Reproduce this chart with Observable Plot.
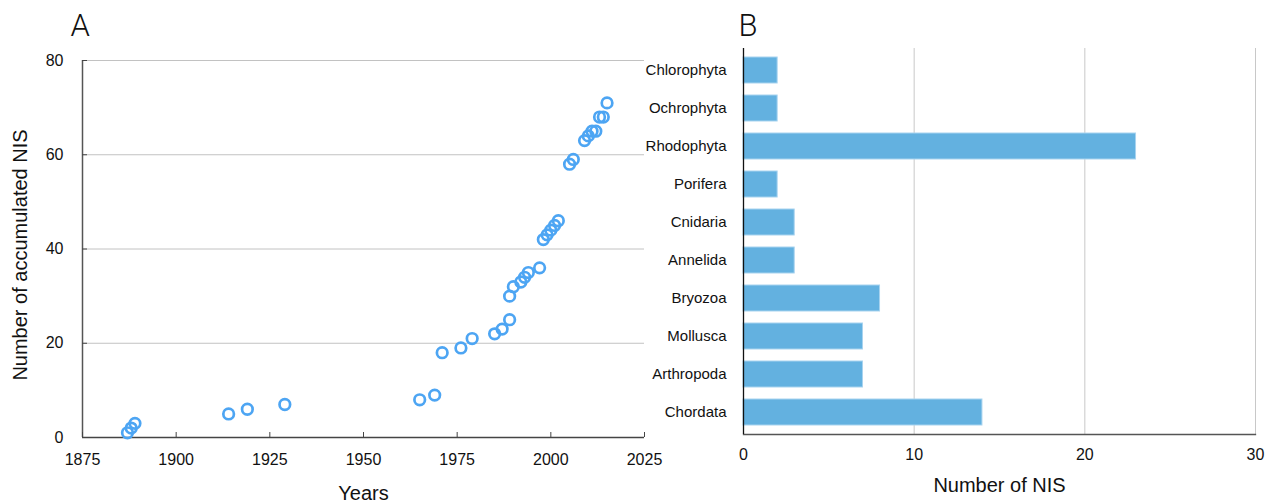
<!DOCTYPE html>
<html><head><meta charset="utf-8">
<script src="https://cdn.jsdelivr.net/npm/d3@7"></script>
<script src="https://cdn.jsdelivr.net/npm/@observablehq/plot@0.6"></script>
<style>
body{margin:0;background:#fff;}
#wrap{position:relative;width:1272px;height:504px;overflow:hidden;background:#fff}
#a{position:absolute;left:0;top:0}
#b{position:absolute;left:660px;top:0}
</style></head><body>
<div id="wrap"><div id="a"></div><div id="b"></div></div>
<script>
// Panel A: accumulated number of NIS by year of first record
const years = [1887,1888,1889,1914,1919,1929,1965,1969,1971,1976,1979,1985,1987,1989,1989,1990,1992,1993,1994,1997,1998,1999,2000,2001,2002,2005,2006,2009,2010,2011,2012,2013,2014,2015];
const accumulated = [1,2,3,5,6,7,8,9,18,19,21,22,23,25,30,32,33,34,35,36,42,43,44,45,46,58,59,63,64,65,65,68,68,71];
const xTicksA = [1875,1900,1925,1950,1975,2000,2025];
const yTicksA = [0,20,40,60,80];

// Panel B: number of NIS by phylum
const phyla = ["Chlorophyta","Ochrophyta","Rhodophyta","Porifera","Cnidaria","Annelida","Bryozoa","Mollusca","Arthropoda","Chordata"];
const nisCount = [2,2,23,2,3,3,8,7,7,14];
const xTicksB = [0,10,20,30];

const font = "'Liberation Sans', Arial, Helvetica, sans-serif";
const dataA = years.map((y,i)=>({year:y, nis:accumulated[i]}));
const dataB = phyla.map((p,i)=>({phylum:p, count:nisCount[i]}));

const chartA = Plot.plot({
  width:660, height:504,
  marginLeft:82, marginRight:16, marginTop:60, marginBottom:67,
  style:{fontFamily:font, fontSize:"16px", color:"#111", background:"transparent", overflow:"visible"},
  x:{domain:[1875,2025], label:null},
  y:{domain:[0,80], label:null},
  marks:[
    Plot.gridY(yTicksA.slice(1), {stroke:"#c2c2c2", strokeOpacity:1}),
    Plot.ruleX([1875], {stroke:"#555", strokeWidth:1.5}),
    Plot.ruleY([0], {stroke:"#444", strokeWidth:1.5}),
    Plot.axisX(xTicksA, {tickSize:-5, tickPadding:21, stroke:"#444", fontSize:16, tickFormat:d=>String(d), label:null}),
    Plot.axisY(yTicksA, {tickSize:-5, tickPadding:24, stroke:"#444", fontSize:16, label:null}),
    Plot.dot(dataA, {x:"year", y:"nis", r:5.3, stroke:"#4da5f3", strokeWidth:2.7, fill:"none"}),
    Plot.text(["Years"], {frameAnchor:"bottom", lineAnchor:"top", dy:48, fontSize:20, fill:"#111"}),
    Plot.text(["Number of accumulated NIS"], {frameAnchor:"left", textAnchor:"middle", dx:-62, dy:6, rotate:-90, fontSize:20, fill:"#111"}),
    Plot.text(["A"], {frameAnchor:"top-left", textAnchor:"start", lineAnchor:"top", dx:-12, dy:-47, fontSize:31, fontFamily:"Roboto, 'Liberation Sans', sans-serif", fontWeight:300, fill:"#111"})
  ]
});
document.getElementById("a").append(chartA);

const chartB = Plot.plot({
  width:612, height:504,
  marginLeft:83, marginRight:17, marginTop:48, marginBottom:70,
  style:{fontFamily:font, fontSize:"15px", color:"#111", background:"transparent", overflow:"visible"},
  x:{domain:[0,30], label:null},
  y:{domain:phyla, paddingInner:0.31, paddingOuter:0.17, label:null},
  marks:[
    Plot.gridX(xTicksB.slice(1), {stroke:"#c8c8c8", strokeOpacity:1}),
    Plot.barX(dataB, {x:"count", y:"phylum", fill:"#63b1e0", stroke:"#a8d3ef", strokeWidth:1}),
    Plot.frame({anchor:"bottom", stroke:"#555", strokeWidth:1.3}),
    Plot.ruleX([0], {stroke:"#111", strokeWidth:1.3}),
    Plot.axisX(xTicksB, {tickSize:0, tickPadding:14, fontSize:16, label:null}),
    Plot.axisY(phyla, {tickSize:0, tickPadding:17, fontSize:15, label:null}),
    Plot.text(["Number of NIS"], {frameAnchor:"bottom", lineAnchor:"top", dy:43, fontSize:20, fill:"#111"}),
    Plot.text(["B"], {frameAnchor:"top-left", textAnchor:"start", lineAnchor:"top", dx:-5, dy:-35, fontSize:31, fontFamily:"Roboto, 'Liberation Sans', sans-serif", fontWeight:300, fill:"#111"})
  ]
});
document.getElementById("b").append(chartB);
</script>
</body></html>
